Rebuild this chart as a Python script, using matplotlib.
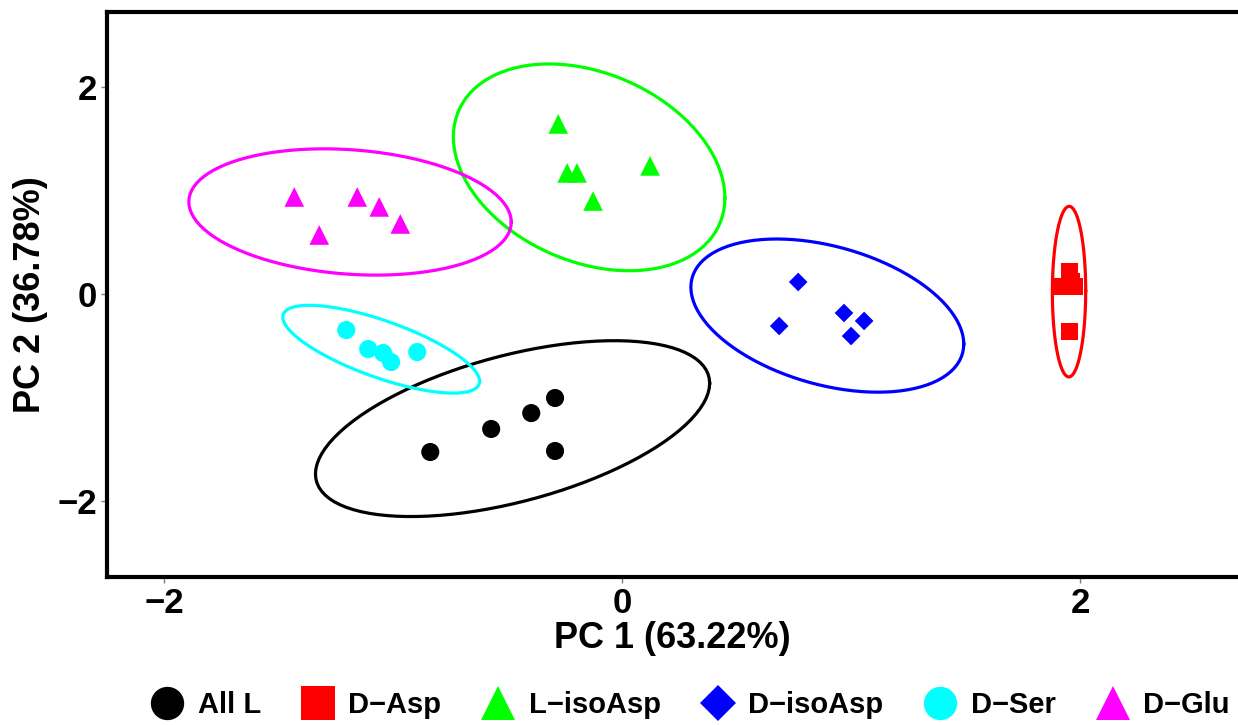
import numpy as np
import matplotlib
matplotlib.use('Agg')
import matplotlib.pyplot as plt
from matplotlib.lines import Line2D

plt.rcParams['font.family'] = ['Liberation Sans', 'DejaVu Sans']
plt.rcParams['font.weight'] = 'bold'

# PCA scores (PC1, PC2)
groups = ['All L', 'D\u2212Asp', 'L\u2212isoAsp', 'D\u2212isoAsp', 'D\u2212Ser', 'D\u2212Glu']
colors = ['#000000', '#FF0000', '#00FF00', '#0000FF', '#00FFFF', '#FF00FF']
markers = ['o', 's', '^', 'D', 'o', '^']

pc1_all_l = [-0.838, -0.572, -0.397, -0.293, -0.293]
pc2_all_l = [-1.530, -1.307, -1.153, -1.007, -1.520]
pc1_d_asp = [1.952, 1.921, 1.974, 1.961, 1.952]
pc2_d_asp = [0.213, 0.077, 0.068, 0.116, -0.360]
pc1_l_isoasp = [-0.279, -0.240, -0.197, -0.127, 0.122]
pc2_l_isoasp = [1.646, 1.172, 1.172, 0.900, 1.240]
pc1_d_isoasp = [0.769, 0.686, 0.969, 1.057, 1.000]
pc2_d_isoasp = [0.116, -0.310, -0.184, -0.261, -0.407]
pc1_d_ser = [-1.205, -1.109, -1.044, -1.009, -0.895]
pc2_d_ser = [-0.349, -0.533, -0.571, -0.659, -0.562]
pc1_d_glu = [-1.432, -1.157, -1.061, -0.969, -1.323]
pc2_d_glu = [0.939, 0.939, 0.843, 0.678, 0.571]

pc1 = [pc1_all_l, pc1_d_asp, pc1_l_isoasp, pc1_d_isoasp, pc1_d_ser, pc1_d_glu]
pc2 = [pc2_all_l, pc2_d_asp, pc2_l_isoasp, pc2_d_isoasp, pc2_d_ser, pc2_d_glu]

# F quantile qf(0.95, 2, 4) for n = 5 points per group
F95_2_4 = 6.944


def stat_ellipse(xs, ys, segments=100):
    # 95% normal confidence ellipse, like ggplot2 stat_ellipse(type = "norm")
    pts = np.column_stack([xs, ys])
    center = pts.mean(axis=0)
    cov = np.cov(pts.T)
    radius = np.sqrt(2 * F95_2_4)
    ang = np.linspace(0, 2 * np.pi, segments + 1)
    circle = np.column_stack([np.cos(ang), np.sin(ang)])
    L = np.linalg.cholesky(cov)
    ell = center + radius * circle @ L.T
    return ell[:, 0], ell[:, 1]


fig = plt.figure(figsize=(12.38, 7.25), dpi=100)
ax = fig.add_axes([107 / 1238, 1 - 577 / 725, 1 - 107 / 1238, (577 - 12) / 725])

msize = {'o': 170, 's': 150, '^': 200, 'D': 90}
for i in range(len(groups)):
    ex, ey = stat_ellipse(pc1[i], pc2[i])
    ax.plot(ex, ey, color=colors[i], lw=2.3, zorder=2)
    ax.scatter(pc1[i], pc2[i], marker=markers[i], s=msize[markers[i]],
               color=colors[i], edgecolors='none', zorder=3)

ax.set_xlim(-2.25, 2.69)
ax.set_ylim(-2.74, 2.73)
ax.set_xticks([-2, 0, 2])
ax.set_yticks([-2, 0, 2])
ax.tick_params(direction='out', length=4, width=1, color='#7f7f7f',
               labelsize=25, labelcolor='black', pad=3)
for lab in ax.get_xticklabels() + ax.get_yticklabels():
    lab.set_fontweight('bold')
for side in ['left', 'bottom', 'top']:
    ax.spines[side].set_linewidth(3)
    ax.spines[side].set_color('black')
ax.spines['right'].set_visible(False)

ax.set_xlabel('PC 1 (63.22%)', fontsize=26, fontweight='bold', labelpad=1)
ax.set_ylabel('PC 2 (36.78%)', fontsize=26, fontweight='bold', labelpad=7)

handles = [Line2D([], [], linestyle='none', marker=markers[i], color=colors[i],
                  markersize=24 if markers[i] != 'D' else 18, markeredgewidth=0)
           for i in range(len(groups))]
fig.legend(handles, groups, loc='lower center', bbox_to_anchor=(0.556, -0.028),
           ncol=6, frameon=False, handletextpad=0.35,
           columnspacing=1.25, handlelength=1.4,
           prop={'weight': 'bold', 'size': 21})

fig.savefig('out.png', dpi=100)
